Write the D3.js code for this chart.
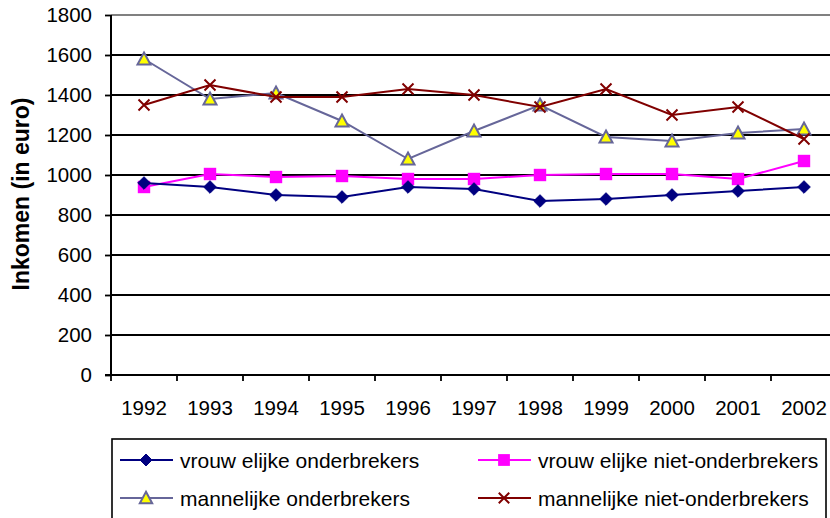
<!DOCTYPE html>
<html><head><meta charset="utf-8">
<script src="https://cdn.jsdelivr.net/npm/d3@7"></script>
<style>body{margin:0;background:#fff}svg{display:block;font-family:"Liberation Sans",Arial,sans-serif}</style>
</head><body><svg id="c" width="830" height="518"></svg>
<script>
const years = ["1992","1993","1994","1995","1996","1997","1998","1999","2000","2001","2002"];
const yTicks = [0,200,400,600,800,1000,1200,1400,1600,1800];
const vrouwOnder = [960,940,900,890,940,930,870,880,900,920,940];
const vrouwNiet = [940,1005,990,995,980,980,1000,1005,1005,980,1070];
const manOnder = [1580,1380,1410,1270,1080,1220,1350,1190,1170,1210,1230];
const manNiet = [1350,1450,1390,1390,1430,1400,1340,1430,1300,1340,1180];
const seriesNames = ["vrouw elijke onderbrekers","vrouw elijke niet-onderbrekers","mannelijke onderbrekers","mannelijke niet-onderbrekers"];

const series = [
  {name: seriesNames[0], values: vrouwOnder, color:"#000080", marker:"diamond"},
  {name: seriesNames[1], values: vrouwNiet, color:"#FF00FF", marker:"square"},
  {name: seriesNames[2], values: manOnder, color:"#666699", marker:"triangle"},
  {name: seriesNames[3], values: manNiet, color:"#800000", marker:"x"}
];

const FONT = "Liberation Sans, Arial, sans-serif";
const svg = d3.select("#c");
const pLeft = 111, pRight = 837, pTop = 15, pBottom = 375;
const x = d3.scaleBand().domain(years).range([pLeft, pRight]);
const y = d3.scaleLinear().domain([0,1800]).range([pBottom, pTop]);

// gridlines
svg.append("g").selectAll("line").data(yTicks.filter(d=>d>0)).join("line")
  .attr("x1", pLeft).attr("x2", pRight)
  .attr("y1", d=>y(d)).attr("y2", d=>y(d))
  .attr("stroke", d=> d===1800 ? "#808080" : "#000").attr("stroke-width", 1.8);

// y axis
const yAxis = d3.axisLeft(y).tickValues(yTicks).tickFormat(d3.format("d")).tickSize(6).tickPadding(13);
const gy = svg.append("g").attr("transform", `translate(${pLeft},0)`).call(yAxis)
  .attr("font-size", 20.5).attr("font-family", FONT);
gy.select(".domain").remove();
gy.selectAll(".tick line").attr("stroke","#000").attr("stroke-width",1.8);
gy.selectAll(".tick text").attr("fill","#000");
svg.append("line").attr("x1",pLeft).attr("x2",pLeft).attr("y1",pTop).attr("y2",pBottom+1)
  .attr("stroke","#000").attr("stroke-width",2);

// x axis
const xAxis = d3.axisBottom(x).tickSize(0).tickPadding(25);
const gx = svg.append("g").attr("transform", `translate(0,${pBottom})`).call(xAxis)
  .attr("font-size", 20.5).attr("font-family", FONT);
gx.select(".domain").remove();
gx.selectAll(".tick text").attr("fill","#000");
svg.append("line").attr("x1",pLeft-6).attr("x2",pRight).attr("y1",pBottom).attr("y2",pBottom)
  .attr("stroke","#000").attr("stroke-width",2);
svg.append("g").selectAll("line").data(years).join("line")
  .attr("x1", d=>x(d)).attr("x2", d=>x(d)).attr("y1", pBottom).attr("y2", pBottom+6)
  .attr("stroke","#000").attr("stroke-width",1.8);

// y label
svg.append("text").attr("transform","translate(29,194) rotate(-90)")
  .attr("text-anchor","middle").attr("font-size",23).attr("font-weight","bold")
  .attr("font-family", FONT).text("Inkomen (in euro)");

function drawMarker(g, type, color, cx, cy, scale=1){
  if(type==="diamond"){
    const r=6.3*scale;
    g.append("path").attr("d",`M${cx},${cy-r}L${cx+r},${cy}L${cx},${cy+r}L${cx-r},${cy}Z`).attr("fill",color).attr("stroke",color);
  } else if(type==="square"){
    const r=6.2*scale;
    g.append("rect").attr("x",cx-r).attr("y",cy-r).attr("width",2*r).attr("height",2*r).attr("fill",color);
  } else if(type==="triangle"){
    const r=6.5*scale;
    g.append("path").attr("d",`M${cx},${cy-r}L${cx+r},${cy+r*0.85}L${cx-r},${cy+r*0.85}Z`)
      .attr("fill","#FFFF00").attr("stroke",color).attr("stroke-width",2);
  } else if(type==="x"){
    const r=5.5*scale;
    g.append("path").attr("d",`M${cx-r},${cy-r}L${cx+r},${cy+r}M${cx-r},${cy+r}L${cx+r},${cy-r}`)
      .attr("stroke",color).attr("stroke-width",2).attr("fill","none");
  }
}

const line = d3.line().x((d,i)=>x(years[i])+x.bandwidth()/2).y(d=>y(d));
const order = [2,3,1,0];
order.forEach(si=>{
  const s = series[si];
  const g = svg.append("g");
  g.append("path").attr("d", line(s.values)).attr("fill","none").attr("stroke",s.color).attr("stroke-width",2);
  s.values.forEach((v,i)=> drawMarker(g, s.marker, s.color, x(years[i])+x.bandwidth()/2, y(v)));
});

// legend
svg.append("rect").attr("x",112).attr("y",439).attr("width",714).attr("height",100)
  .attr("fill","#fff").attr("stroke","#000").attr("stroke-width",1.6);
const legPos = [[120,460],[478,460],[120,498],[478,498]];
series.forEach((s,i)=>{
  const [lx,ly] = legPos[i];
  const g = svg.append("g");
  g.append("line").attr("x1",lx).attr("x2",lx+53).attr("y1",ly).attr("y2",ly).attr("stroke",s.color).attr("stroke-width",2);
  drawMarker(g, s.marker, s.color, lx+26, ly, 0.95);
  g.append("text").attr("x",lx+60).attr("y",ly).attr("dy","0.36em").attr("font-size",21)
    .attr("font-family", FONT).text(s.name);
});
</script></body></html>
